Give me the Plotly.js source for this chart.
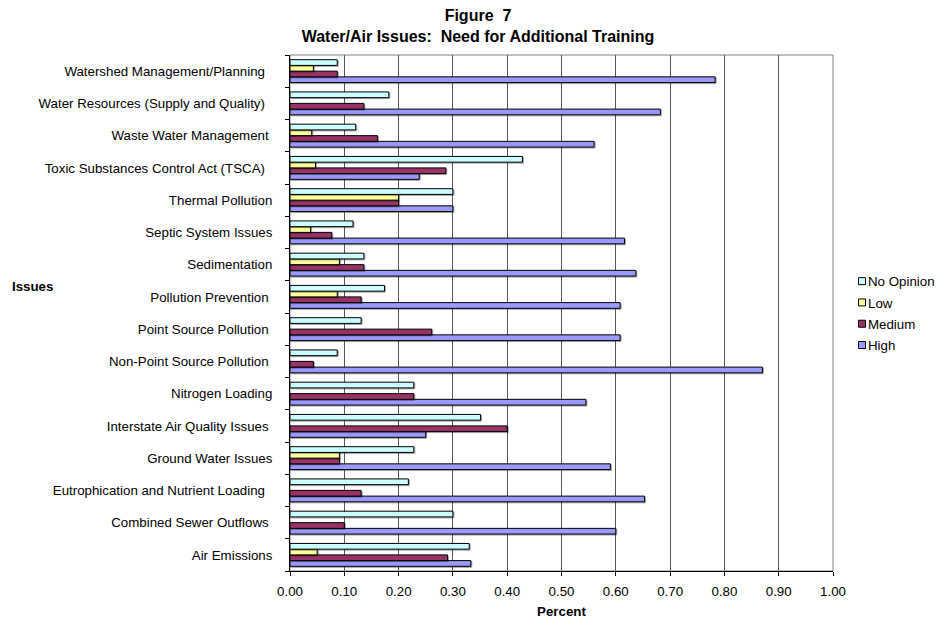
<!DOCTYPE html>
<html>
<head>
<meta charset="utf-8">
<script src="https://cdn.plot.ly/plotly-3.0.1.min.js"></script>
<style>
  html, body { margin: 0; padding: 0; background: #fff; }
  #chart { width: 940px; height: 624px; }
  .barlayer path { filter: drop-shadow(1px 1px 0 rgba(0,0,0,0.35)); }
  /* compact legend keys: small squares with the label right beside them */
  .legend .legendpoints path { d: path("M3.5,3.5H-3.5V-3.5H3.5Z"); }
  .legend .legendtext { transform: translateX(-14px); }
</style>
</head>
<body>
<div id="chart"></div>
<script>
// Issues, listed from the bottom of the chart to the top
const issues = [
  'Air Emissions',
  'Combined Sewer Outflows\u00a0',
  'Eutrophication and Nutrient Loading\u00a0\u00a0',
  'Ground Water Issues',
  'Interstate Air Quality Issues\u00a0',
  'Nitrogen Loading',
  'Non-Point Source Pollution\u00a0',
  'Point Source Pollution\u00a0',
  'Pollution Prevention\u00a0',
  'Sedimentation',
  'Septic System Issues',
  'Thermal Pollution',
  'Toxic Substances Control Act (TSCA)\u00a0\u00a0',
  'Waste Water Management\u00a0',
  'Water Resources (Supply and Quality)\u00a0\u00a0',
  'Watershed Management/Planning\u00a0\u00a0'
];

// Share of respondents per need level (null = no responses)
const noOpinion = [0.330, 0.300, 0.218, 0.228, 0.351, 0.228, 0.087, 0.131, 0.174, 0.136, 0.116, 0.300, 0.428, 0.121, 0.182, 0.087];
const low       = [0.050, null,  null,  0.091, null,  null,  null,  null,  0.087, 0.091, 0.038, 0.200, 0.047, 0.040, null,  0.043];
const medium    = [0.290, 0.100, 0.131, 0.091, 0.400, 0.228, 0.043, 0.261, 0.131, 0.136, 0.077, 0.200, 0.287, 0.161, 0.136, 0.087];
const high      = [0.333, 0.600, 0.653, 0.590, 0.250, 0.545, 0.870, 0.608, 0.608, 0.637, 0.616, 0.300, 0.238, 0.560, 0.682, 0.783];

const seriesNames = ['No Opinion', 'Low', 'Medium', 'High'];
const seriesColors = ['#CCFFFF', '#FFFF99', '#993366', '#9999FF'];
const seriesValues = [noOpinion, low, medium, high];

const FONT = 'Arial, "Liberation Sans", sans-serif';
const FS = 13.3;
const TITLE_FS = 16;

// Traces are added High first so that No Opinion sits on top inside each group;
// legendrank keeps the legend in No Opinion .. High order.
const traces = [];
for (let i = seriesNames.length - 1; i >= 0; i--) {
  traces.push({
    type: 'bar',
    orientation: 'h',
    name: seriesNames[i],
    legendgroup: seriesNames[i],
    legendrank: i + 1,
    y: issues,
    x: seriesValues[i],
    marker: { color: seriesColors[i], line: { color: '#000000', width: 1 } },
    hoverinfo: 'x+y+name'
  });
}

const layout = {
  width: 940,
  height: 624,
  paper_bgcolor: '#ffffff',
  plot_bgcolor: '#ffffff',
  font: { family: FONT, size: FS, color: '#000000' },
  margin: { l: 290, r: 107, t: 55, b: 53, pad: 0 },
  barmode: 'group',
  bargap: 0.29,
  bargroupgap: 0,
  showlegend: true,
  title: {
    text: 'Figure  7<br>Water/Air Issues:  Need for Additional Training',
    font: { family: FONT, size: TITLE_FS, weight: 'bold', color: '#000000' },
    xref: 'container', x: 0.5085, xanchor: 'center',
    yref: 'container', y: 0.966, yanchor: 'top'
  },
  xaxis: {
    range: [0, 1],
    dtick: 0.1,
    tick0: 0,
    tickformat: '.2f',
    ticks: 'outside',
    ticklen: 4,
    tickcolor: '#000000',
    showline: true,
    linecolor: '#000000',
    linewidth: 1,
    showgrid: true,
    gridcolor: '#555555',
    gridwidth: 1,
    zeroline: false,
    fixedrange: true,
    ticklabelstandoff: 4,
    tickfont: { family: FONT, size: FS },
    title: { text: 'Percent', font: { family: FONT, size: FS, weight: 'bold' }, standoff: 8 }
  },
  yaxis: {
    type: 'category',
    ticks: 'outside',
    tickson: 'boundaries',
    ticklen: 4,
    tickcolor: '#000000',
    showline: true,
    linecolor: '#000000',
    linewidth: 1,
    showgrid: false,
    zeroline: false,
    fixedrange: true,
    ticklabelstandoff: 14,
    tickfont: { family: FONT, size: FS }
  },
  legend: {
    xref: 'container', x: 842 / 940, xanchor: 'left',
    yref: 'container', y: 1 - 266 / 624, yanchor: 'top',
    traceorder: 'grouped',
    tracegroupgap: 1,
    font: { family: FONT, size: FS },
    bgcolor: 'rgba(0,0,0,0)',
    borderwidth: 0
  },
  shapes: [{
    type: 'rect', xref: 'paper', yref: 'paper',
    x0: 0, x1: 1, y0: 0, y1: 1,
    line: { color: '#808080', width: 1 },
    layer: 'below'
  }],
  annotations: [{
    text: 'Issues',
    xref: 'paper', x: (10 - 290) / 543, xanchor: 'left',
    yref: 'paper', y: (571 - 286) / 516, yanchor: 'middle',
    showarrow: false,
    font: { family: FONT, size: FS, weight: 'bold' }
  }]
};

Plotly.newPlot('chart', traces, layout, { displayModeBar: false, staticPlot: true });
</script>
</body>
</html>
